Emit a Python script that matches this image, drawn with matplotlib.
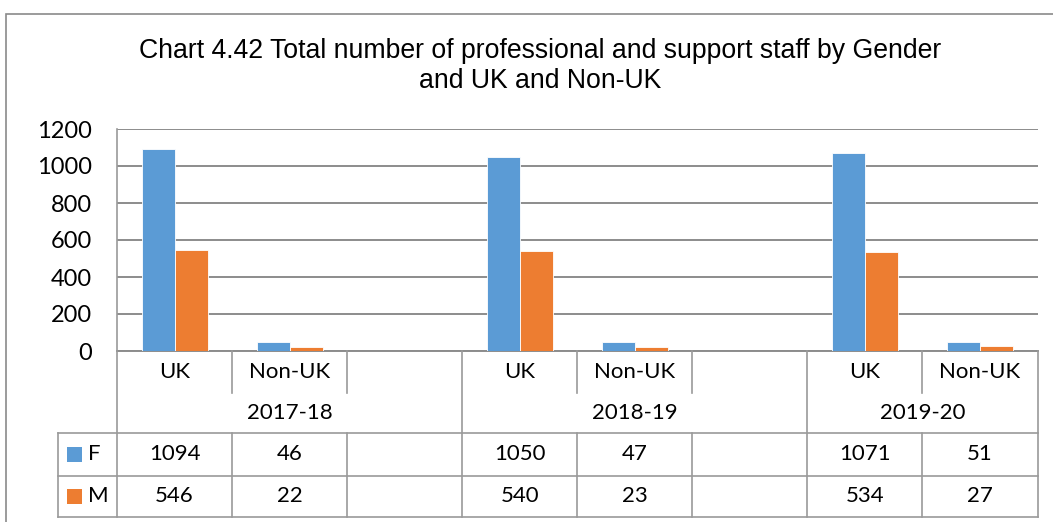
import numpy as np
import matplotlib
matplotlib.use("Agg")
import matplotlib.pyplot as plt
import matplotlib.transforms as mtransforms
from matplotlib.patches import Rectangle
from matplotlib.lines import Line2D

# ---- data ----
years = ["2017-18", "2018-19", "2019-20"]
categories = ["UK", "Non-UK", "", "UK", "Non-UK", "", "UK", "Non-UK"]
year_of_cat = [0, 0, 0, 1, 1, 1, 2, 2]
series_names = ["F", "M"]
female = [1094, 46, None, 1050, 47, None, 1071, 51]
male = [546, 22, None, 540, 23, None, 534, 27]
yticks = [0, 200, 400, 600, 800, 1000, 1200]
title = "Chart 4.42 Total number of professional and support staff by Gender\nand UK and Non-UK"

colors = ["#5B9BD5", "#ED7D31"]
grid_c = "#8C8C8C"
line_c = "#9A9A9A"
body_font = ["Lato", "DejaVu Sans"]
title_font = ["Liberation Sans", "DejaVu Sans"]

W, H = 1053, 522
fig = plt.figure(figsize=(W / 100, H / 100), dpi=100)

def fx(px):
    return px / W

def fy(py):
    return 1 - py / H

# outer chart border
fig.add_artist(Rectangle((fx(6), fy(540)), fx(1100), fy(14) - fy(540),
                         transform=fig.transFigure, fill=False,
                         edgecolor="#8A8A8A", lw=1.2))

fig.text(fx(540), fy(66), title, ha="center", va="center",
         fontsize=19.2, family=title_font, color="#000000", linespacing=1.25)

ax = fig.add_axes([fx(117), fy(351), fx(1037.5) - fx(117), fy(129) - fy(351)])
n = len(categories)
x = np.arange(n)
bw = 0.287
fvals = np.array([np.nan if v is None else v for v in female], dtype=float)
mvals = np.array([np.nan if v is None else v for v in male], dtype=float)
ax.bar(x - bw / 2, fvals, bw, color=colors[0], edgecolor="white", linewidth=0.6, zorder=3)
ax.bar(x + bw / 2, mvals, bw, color=colors[1], edgecolor="white", linewidth=0.6, zorder=3)
ax.set_xlim(-0.5, n - 0.5)
ax.set_ylim(0, 1200)
ax.set_yticks(yticks)
ax.set_yticklabels([str(t) for t in yticks], fontsize=17, family=body_font)
ax.tick_params(axis="y", length=0, pad=18)
ax.set_xticks([])
ax.grid(axis="y", color=grid_c, lw=1.4, zorder=0)
for s in ["top", "right"]:
    ax.spines[s].set_visible(False)
ax.spines["left"].set_color(line_c)
ax.spines["left"].set_linewidth(1.2)
ax.spines["bottom"].set_color(grid_c)
ax.spines["bottom"].set_linewidth(1.4)

# ---- data table below ----
tr = mtransforms.blended_transform_factory(ax.transData, fig.transFigure)
y_axis = fy(351)
y_cat = fy(393)
y_year = fy(433)
y_f = fy(476)
y_m = fy(517)
x_left_px = 58
tfs = 16

def vline(xd, y0, y1):
    fig.add_artist(Line2D([xd, xd], [y0, y1], transform=tr, color=line_c, lw=1.2, clip_on=False))

bounds = np.arange(n + 1) - 0.5
for k, b in enumerate(bounds):
    is_year_bound = (k == 0 or k == n or year_of_cat[k] != year_of_cat[k - 1])
    if is_year_bound:
        vline(b, y_axis, y_m)
    else:
        vline(b, y_axis, y_cat)
        vline(b, y_year, y_m)

for yy in [y_year, y_f, y_m]:
    fig.add_artist(Line2D([fx(x_left_px), ax.get_position().x1], [yy, yy],
                          transform=fig.transFigure, color=line_c, lw=1.2))
fig.add_artist(Line2D([fx(x_left_px), fx(x_left_px)], [y_year, y_m],
                      transform=fig.transFigure, color=line_c, lw=1.2))

for i, c in enumerate(categories):
    if c:
        fig.text(i, (y_axis + y_cat) / 2, c, transform=tr, ha="center", va="center",
                 fontsize=tfs, family=body_font)

for yi, yname in enumerate(years):
    idx = [i for i, yv in enumerate(year_of_cat) if yv == yi]
    lo = bounds[idx[0]]
    hi = bounds[idx[-1] + 1]
    fig.text((lo + hi) / 2, (y_cat + y_year) / 2, yname, transform=tr,
             ha="center", va="center", fontsize=tfs, family=body_font)

for row, (vals, yc) in enumerate([(female, (y_year + y_f) / 2), (male, (y_f + y_m) / 2)]):
    for i, v in enumerate(vals):
        if v is not None:
            fig.text(i, yc, str(v), transform=tr, ha="center", va="center",
                     fontsize=tfs, family=body_font)
    fig.add_artist(Rectangle((fx(67), yc - (15 / H) / 2), fx(15), 15 / H,
                             transform=fig.transFigure, facecolor=colors[row], edgecolor="none"))
    fig.text(fx(88), yc, series_names[row], ha="left", va="center",
             fontsize=tfs, family=body_font)

fig.savefig("out.png", dpi=100)
